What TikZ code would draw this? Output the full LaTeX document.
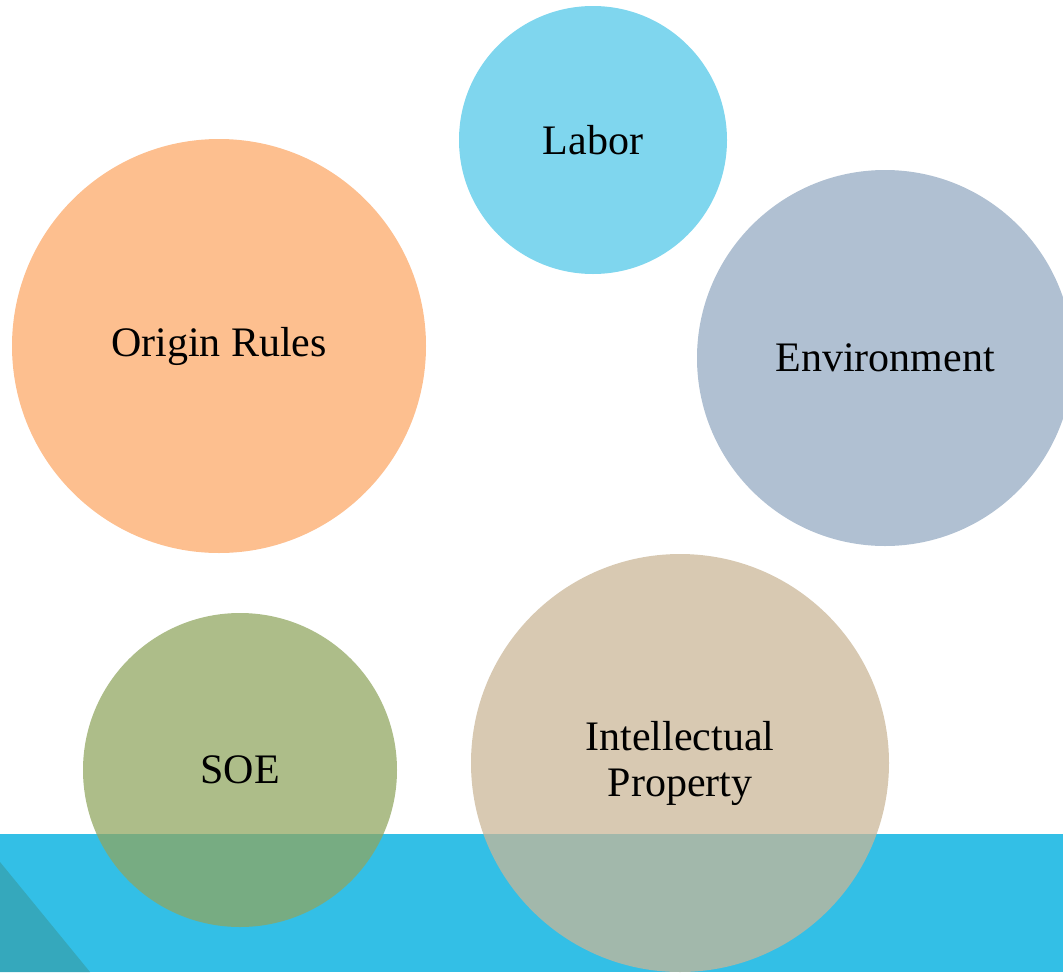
\documentclass[tikz,border=0pt]{standalone}
\usepackage{fontspec}
\setmainfont{Liberation Serif}

\definecolor{bandBlue}{RGB}{51,191,230}
\definecolor{bandDark}{RGB}{53,168,188}
\definecolor{laborBlue}{RGB}{82,200,232}
\definecolor{originOrange}{RGB}{252,168,104}
\definecolor{envGrey}{RGB}{148,170,194}
\definecolor{soeGreen}{RGB}{144,166,96}
\definecolor{ipTan}{RGB}{202,182,151}

\begin{document}
\begin{tikzpicture}[x=1pt, y=-1pt,
    bubble/.style={circle, inner sep=0pt, fill opacity=0.74, text opacity=1,
        align=center, font=\fontsize{42}{46}\selectfont}]
    \useasboundingbox (0,0) rectangle (1063,972);
    \clip (0,0) rectangle (1063,972);

    % footer band
    \fill[bandBlue] (0,834) rectangle (1063,972);
    \fill[bandDark] (0,862) -- (90,972) -- (0,972) -- cycle;

    \node[bubble, minimum size=268pt, fill=laborBlue] (labor) at (593,140) {Labor};
    \node[bubble, minimum size=414pt, fill=originOrange] (origin) at (219,346) {Origin Rules};
    \node[bubble, minimum size=376pt, fill=envGrey] (env) at (885,358) {Environment};
    \node[bubble, minimum size=314pt, fill=soeGreen] (soe) at (240,770) {SOE};
    \node[bubble, minimum size=418pt, fill=ipTan] (ip) at (680,763) {Intellectual\\Property};
\end{tikzpicture}
\end{document}
